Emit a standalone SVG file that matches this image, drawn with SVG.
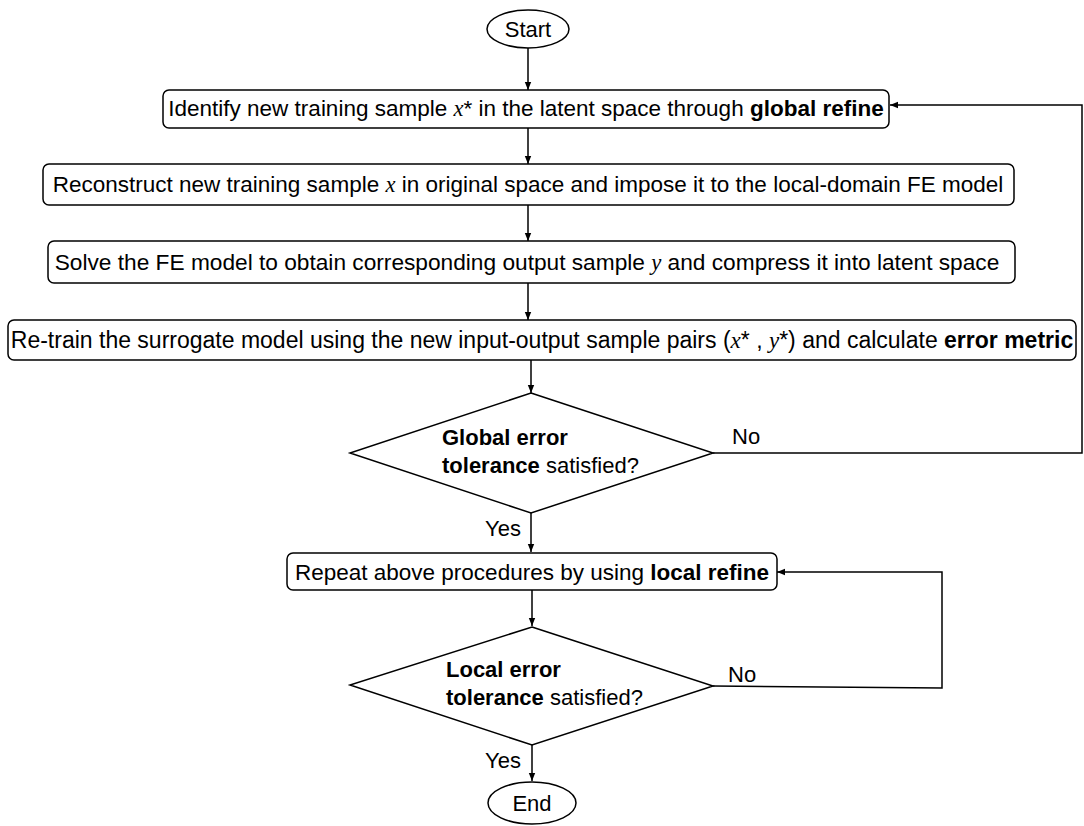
<svg xmlns="http://www.w3.org/2000/svg" width="1084" height="826" viewBox="0 0 1084 826">
<style>
.box{fill:#fff;stroke:#000;stroke-width:1.5}
.t{font-family:"Liberation Sans",Arial,sans-serif;font-size:22px;fill:#000}
.w{font-size:22.5px}
.w3{font-size:22.7px}
.w2{font-size:23px}
.c{text-anchor:middle}
.b{font-weight:bold}
.m{font-family:"Liberation Serif","Times New Roman",serif;font-style:italic}
.ln{fill:none;stroke:#000;stroke-width:1.5}
</style>
<defs>
<marker id="ah" viewBox="0 0 10 10" refX="10" refY="5" markerWidth="8" markerHeight="8" markerUnits="userSpaceOnUse" orient="auto">
<path d="M0,1 L10,5 L0,9 z" fill="#000"/>
</marker>
</defs>
<rect width="1084" height="826" fill="#fff"/>
<g id="connectors">
<line class="ln" x1="528" y1="48" x2="528" y2="90" marker-end="url(#ah)"/>
<line class="ln" x1="528" y1="128" x2="528" y2="164" marker-end="url(#ah)"/>
<line class="ln" x1="528" y1="205" x2="528" y2="241" marker-end="url(#ah)"/>
<line class="ln" x1="528" y1="283" x2="528" y2="320" marker-end="url(#ah)"/>
<line class="ln" x1="531" y1="360" x2="531" y2="393" marker-end="url(#ah)"/>
<polyline class="ln" points="713,453 1082,453 1082,105 890,105" marker-end="url(#ah)"/>
<line class="ln" x1="531" y1="513" x2="531" y2="552" marker-end="url(#ah)"/>
<line class="ln" x1="532" y1="590" x2="532" y2="626" marker-end="url(#ah)"/>
<polyline class="ln" points="713,686 942,688 942,572 777,572" marker-end="url(#ah)"/>
<line class="ln" x1="532" y1="745" x2="532" y2="781" marker-end="url(#ah)"/>
<text class="t" x="732" y="444">No</text>
<text class="t" x="485" y="536">Yes</text>
<text class="t" x="728" y="682">No</text>
<text class="t" x="485" y="768">Yes</text>
</g>
<g id="start">
<ellipse class="box" cx="528" cy="29" rx="41" ry="19"/>
<text class="t c" x="528" y="37">Start</text>
</g>
<g id="step1">
<rect class="box" x="163" y="90" width="726" height="38" rx="6"/>
<text class="t w c" x="526" y="116">Identify new training sample <tspan class="m">x</tspan>* in the latent space through <tspan class="b">global refine</tspan></text>
</g>
<g id="step2">
<rect class="box" x="43" y="164" width="971" height="41" rx="6"/>
<text class="t w c" x="528" y="192">Reconstruct new training sample <tspan class="m">x</tspan> in original space and impose it to the local-domain FE model</text>
</g>
<g id="step3">
<rect class="box" x="48" y="241" width="967" height="42" rx="6"/>
<text class="t w3 c" x="527" y="270">Solve the FE model to obtain corresponding output sample <tspan class="m">y</tspan> and compress it into latent space</text>
</g>
<g id="step4">
<rect class="box" x="8" y="320" width="1068" height="40" rx="6"/>
<text class="t w2 c" x="542" y="348">Re-train the surrogate model using the new input-output sample pairs (<tspan class="m">x</tspan>* , <tspan class="m">y</tspan>*) and calculate <tspan class="b">error metric</tspan></text>
</g>
<g id="decision1">
<polygon class="box" points="531,393 713,453 531,513 350,453"/>
<text class="t b" x="442" y="445">Global error</text>
<text class="t" x="442" y="473"><tspan class="b">tolerance</tspan> satisfied?</text>
</g>
<g id="step5">
<rect class="box" x="287" y="553" width="490" height="37" rx="6"/>
<text class="t w c" x="532" y="580">Repeat above procedures by using <tspan class="b">local refine</tspan></text>
</g>
<g id="decision2">
<polygon class="box" points="532,627 713,686 532,745 350,685"/>
<text class="t b" x="446" y="677">Local error</text>
<text class="t" x="446" y="705"><tspan class="b">tolerance</tspan> satisfied?</text>
</g>
<g id="end">
<ellipse class="box" cx="532" cy="803" rx="44" ry="21"/>
<text class="t c" x="532" y="811">End</text>
</g>
</svg>
